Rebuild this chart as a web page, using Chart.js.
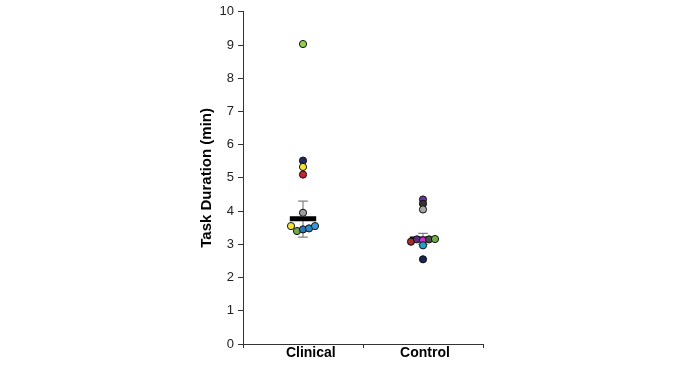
<!DOCTYPE html>
<html>
<head>
<meta charset="utf-8">
<script src="https://cdn.jsdelivr.net/npm/chart.js@4.4.1/dist/chart.umd.min.js"></script>
<style>
html,body{margin:0;padding:0;background:#fff;}
#wrap{width:680px;height:365px;position:relative;}
</style>
</head>
<body>
<div id="wrap"><canvas id="c"></canvas></div>
<script>
// Categories
const categories = ['Clinical', 'Control'];
// Individual participant values (min)
const clinicalValues = [9.03, 5.52, 5.33, 5.10, 3.95, 3.55, 3.40, 3.45, 3.48, 3.55];
const clinicalJitter = [0, 0, 0, 0, 0, -0.10, -0.05, 0, 0.05, 0.10];
const clinicalColors = ['#92D050', '#1F2A5C', '#F2E33A', '#C0282D', '#9E9E9E', '#F2E33A', '#70A845', '#2E75B6', '#2E86C1', '#3A9AD9'];
const controlValues = [4.35, 4.22, 4.05, 3.08, 3.15, 3.12, 3.15, 3.16, 2.97, 2.55];
const controlJitter = [0, 0, 0, -0.10, -0.05, 0, 0.05, 0.10, 0, 0];
const controlColors = ['#7030A0', '#333333', '#A6A6A6', '#A52A2A', '#5B2C83', '#CC33CC', '#4A4A4A', '#70AD47', '#1FA3C8', '#1A2550'];
// Summary (median and error bar range)
const medians = [3.77, 3.16];
const errLow = [3.22, 3.00];
const errHigh = [4.30, 3.33];
// Axis ticks
const yTicks = [0, 1, 2, 3, 4, 5, 6, 7, 8, 9, 10];

const FONT = '"Liberation Sans", Arial, sans-serif';
const halfBar = 0.11, halfCap = 0.04;
const labelPad = ['    ', ' '];

function pts(values, jitter, idx) {
  return values.map((v, i) => ({ x: idx + jitter[i], y: v }));
}

const datasets = [
  {
    type: 'scatter', data: pts(clinicalValues, clinicalJitter, 0), xAxisID: 'xd',
    pointRadius: 3.6, pointBackgroundColor: clinicalColors, pointBorderColor: '#111', pointBorderWidth: 1, order: 1
  },
  {
    type: 'scatter', data: pts(controlValues, controlJitter, 1), xAxisID: 'xd',
    pointRadius: 3.6, pointBackgroundColor: controlColors, pointBorderColor: '#111', pointBorderWidth: 1, order: 1
  }
];
categories.forEach((c, i) => {
  datasets.push({ type: 'line', xAxisID: 'xd', data: [{x: i - halfBar, y: medians[i]}, {x: i + halfBar, y: medians[i]}],
    borderColor: '#000', borderWidth: 5, pointRadius: 0, order: 3, borderCapStyle: 'butt' });
  datasets.push({ type: 'line', xAxisID: 'xd', data: [{x: i, y: errLow[i]}, {x: i, y: errHigh[i]}],
    borderColor: '#808080', borderWidth: 1.2, pointRadius: 0, order: 4 });
  datasets.push({ type: 'line', xAxisID: 'xd', data: [{x: i - halfCap, y: errHigh[i]}, {x: i + halfCap, y: errHigh[i]}],
    borderColor: '#808080', borderWidth: 1.2, pointRadius: 0, order: 4 });
  datasets.push({ type: 'line', xAxisID: 'xd', data: [{x: i - halfCap, y: errLow[i]}, {x: i + halfCap, y: errLow[i]}],
    borderColor: '#808080', borderWidth: 1.2, pointRadius: 0, order: 4 });
});

new Chart(document.getElementById('c'), {
  data: { labels: categories, datasets },
  options: {
    responsive: true, maintainAspectRatio: false, animation: false,
    layout: { padding: { left: 198, right: 197, top: 4, bottom: 0 } },
    plugins: { legend: { display: false }, tooltip: { enabled: false } },
    scales: {
      x: {
        type: 'category', offset: true, position: 'bottom',
        border: { display: true, color: '#333', width: 1 },
        grid: { offset: true, drawOnChartArea: false, drawTicks: true, tickLength: 4, color: '#333' },
        ticks: { color: '#000', font: { family: FONT, size: 14, weight: 'bold' }, padding: -3,
                 callback: (v, i) => labelPad[i] + categories[i] },
        afterFit: s => { s.height = 21; }
      },
      xd: { type: 'linear', display: false, min: -0.5, max: 1.5 },
      y: {
        type: 'linear', min: 0, max: 10,
        afterBuildTicks: s => { s.ticks = yTicks.map(v => ({ value: v })); },
        border: { display: true, color: '#333', width: 1 },
        grid: { drawOnChartArea: false, drawTicks: true, tickLength: 5, color: '#333' },
        ticks: { color: '#222', font: { family: FONT, size: 13 }, padding: 4 },
        title: { display: true, text: 'Task Duration (min)', color: '#000', font: { family: FONT, size: 15, weight: 'bold' }, padding: { top: 0, bottom: 3 } },
        afterFit: s => { s.width = 45; }
      }
    }
  }
});
</script>
</body>
</html>
